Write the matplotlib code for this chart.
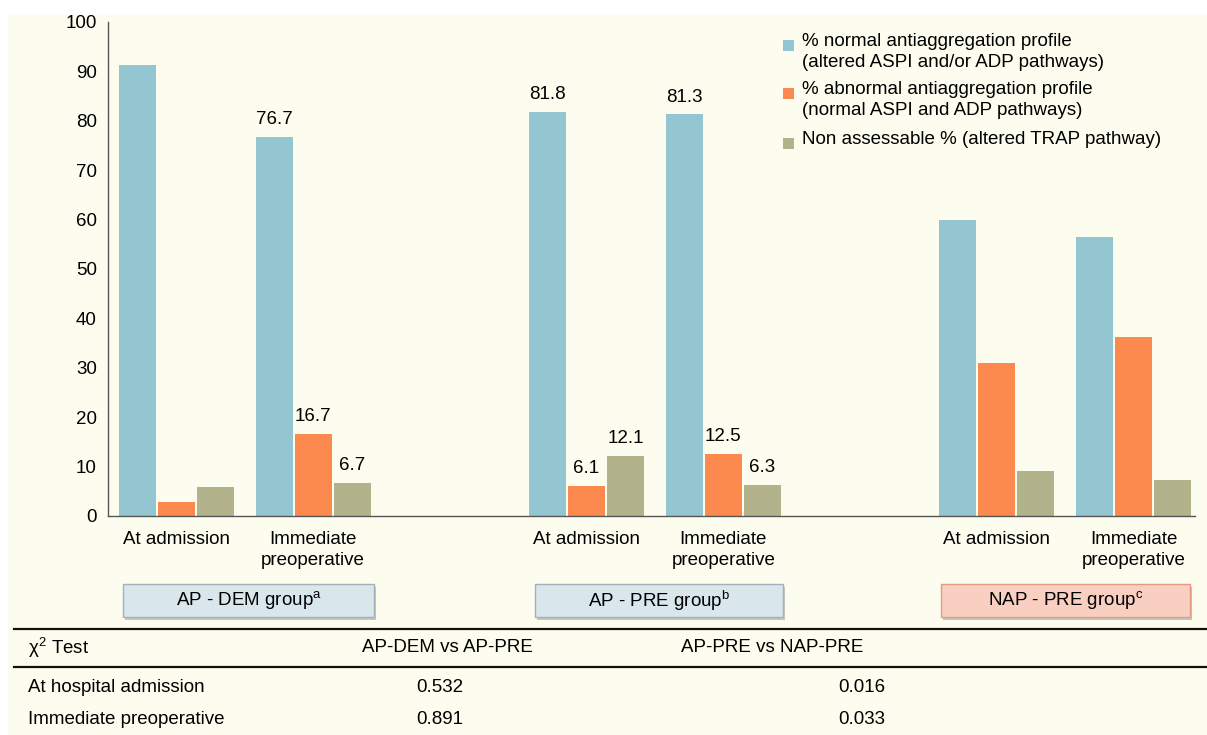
import matplotlib.pyplot as plt
import numpy as np
from matplotlib.patches import Rectangle
from matplotlib.lines import Line2D

plt.rcParams['font.family'] = ['Liberation Sans', 'DejaVu Sans']
plt.rcParams['mathtext.fontset'] = 'custom'
plt.rcParams['mathtext.rm'] = 'Liberation Sans'

# data
timepoints = ['At admission', 'Immediate\npreoperative']
groups = ['AP - DEM group$^{\\mathrm{a}}$', 'AP - PRE group$^{\\mathrm{b}}$', 'NAP - PRE group$^{\\mathrm{c}}$']
normal = [91.2, 76.7, 81.8, 81.3, 60.0, 56.5]
abnormal = [2.9, 16.7, 6.1, 12.5, 30.9, 36.3]
non_assess = [5.9, 6.7, 12.1, 6.3, 9.2, 7.3]
show_label = [False, True, True, True, False, False]
legend_labels = ['% normal antiaggregation profile\n(altered ASPI and/or ADP pathways)',
                 '% abnormal antiaggregation profile\n(normal ASPI and ADP pathways)',
                 'Non assessable % (altered TRAP pathway)']
table_header = ['\u03c7$^{2}$ Test', 'AP-DEM vs AP-PRE', 'AP-PRE vs NAP-PRE']
table_rows = ['At hospital admission', 'Immediate preoperative']
dem_vs_pre = ['0.532', '0.891']
pre_vs_nap = ['0.016', '0.033']

blue = '#93c6d1'
orange = '#fc8a4f'
green = '#b2b38b'
bg = '#fdfdef'
FS = 13.5

W, H = 1207, 735
fig = plt.figure(figsize=(W / 100, H / 100), dpi=100, facecolor='white')
# cream panel (white strip at top and left edge)
fig.patches.append(Rectangle((8 / W, 0), 1, 1 - 15 / H, transform=fig.transFigure,
                             facecolor=bg, edgecolor='none', zorder=-10))

ax = fig.add_axes([108 / W, 1 - 516 / H, (1195 - 108) / W, (516 - 22) / H])
ax.set_facecolor('none')

pos = np.array([0, 1, 3, 4, 6, 7])
bw = 0.27
step = 0.285
series = [normal, abnormal, non_assess]
colors = [blue, orange, green]
for k, (vals, c) in enumerate(zip(series, colors)):
    bars = ax.bar(pos + (k - 1) * step, vals, width=bw, color=c)
    for b, v, s in zip(bars, vals, show_label):
        if s:
            ax.annotate(f'{v:.1f}', (b.get_x() + b.get_width() / 2, v), xytext=(0, 12.5),
                        textcoords='offset points', ha='center', va='center', fontsize=FS)

ax.set_xlim(-0.5, 7.45)
ax.set_ylim(0, 100)
ax.set_yticks(np.arange(0, 101, 10))
ax.set_xticks(pos)
ax.set_xticklabels(timepoints * 3, fontsize=FS, linespacing=1.3)
ax.tick_params(axis='both', length=0, labelsize=FS)
ax.tick_params(axis='y', pad=8)
ax.tick_params(axis='x', pad=11)
for s in ['top', 'right']:
    ax.spines[s].set_visible(False)
for s in ['left', 'bottom']:
    ax.spines[s].set_color('#555555')
    ax.spines[s].set_linewidth(1.0)

# legend: square marker aligned with the first line of each entry
leg_y = [45, 93, 143]
for lab, c, yy in zip(legend_labels, colors, leg_y):
    fig.patches.append(Rectangle((783 / W, 1 - (yy + 5.5) / H), 11 / W, 11 / H,
                                 transform=fig.transFigure, facecolor=c, edgecolor='none'))
    fig.text(802 / W, 1 - (yy - 12) / H, lab, ha='left', va='top', fontsize=FS, linespacing=1.33)

# group boxes below the axis
box_x = [(123, 374), (535, 783), (941, 1190)]
box_fill = ['#d9e7ed', '#d9e7ed', '#f9cfc1']
box_edge = ['#9fb3bb', '#9fb3bb', '#e89a80']
for (x0, x1), name, fc, ec in zip(box_x, groups, box_fill, box_edge):
    fig.patches.append(Rectangle((x0 / W + 0.002, 1 - 620 / H), (x1 - x0) / W, 33 / H,
                                 transform=fig.transFigure, facecolor='#9a9a9a',
                                 edgecolor='none', alpha=0.55))
    fig.patches.append(Rectangle((x0 / W, 1 - 617 / H), (x1 - x0) / W, 33 / H,
                                 transform=fig.transFigure, facecolor=fc, edgecolor=ec,
                                 linewidth=1.0))
    fig.text((x0 + x1) / 2 / W, 1 - 601 / H, name, ha='center', va='center', fontsize=FS)

# table
for yl in [629, 667]:
    fig.add_artist(Line2D([14 / W, 1], [1 - yl / H, 1 - yl / H], transform=fig.transFigure,
                          color='#111111', linewidth=1.6))
tfont = dict(fontsize=FS, va='center')
fig.text(28 / W, 1 - 648 / H, table_header[0], ha='left', **tfont)
fig.text(447 / W, 1 - 647 / H, table_header[1], ha='center', **tfont)
fig.text(772 / W, 1 - 647 / H, table_header[2], ha='center', **tfont)
for i, (r, a, b) in enumerate(zip(table_rows, dem_vs_pre, pre_vs_nap)):
    y = 1 - (688 + 32 * i) / H
    fig.text(28 / W, y, r, ha='left', **tfont)
    fig.text(440 / W, y, a, ha='center', **tfont)
    fig.text(862 / W, y, b, ha='center', **tfont)

fig.savefig('out.png', dpi=100, facecolor='white')
